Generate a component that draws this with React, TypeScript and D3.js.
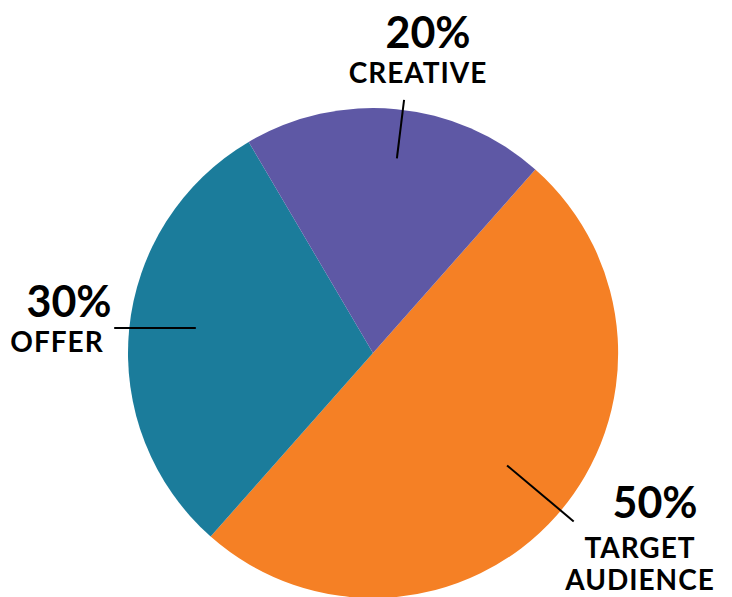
import React, { useEffect, useRef } from "react";
import * as d3 from "d3";

// slices in clockwise order, starting from the top-right boundary
const categories = ["TARGET AUDIENCE", "OFFER", "CREATIVE"];
const nameLines = [["TARGET", "AUDIENCE"], ["OFFER"], ["CREATIVE"]];
const values = [50, 30, 20];
const colors = ["#F58025", "#1B7C9B", "#5E58A5"];

interface Slice {
  name: string;
  lines: string[];
  value: number;
  color: string;
}

const WIDTH = 732;
const HEIGHT = 597;

// label layout per slice (position of the text block, leader line radii, angle tweak in degrees)
const labelLayout = [
  { pctX: 655, pctY: 518, nameX: 640, nameY: 558, lineGap: 32, r0: 175, r1: 262, tilt: -1.5, flat: false },
  { pctX: 69, pctY: 317, nameX: 57, nameY: 352, lineGap: 32, r0: 178, r1: 260, tilt: 0, flat: true },
  { pctX: 428, pctY: 48, nameX: 418, nameY: 83, lineGap: 32, r0: 196, r1: 255, tilt: 1.5, flat: false },
];

export default function App() {
  const svgRef = useRef<SVGSVGElement>(null);

  useEffect(() => {
    const data: Slice[] = categories.map((c, i) => ({
      name: c,
      lines: nameLines[i],
      value: values[i],
      color: colors[i],
    }));

    const svg = d3.select(svgRef.current);
    svg.selectAll("*").remove();

    const cx = 373;
    const cy = 353;
    const radius = 245;
    const start = (41.5 * Math.PI) / 180;

    const pie = d3
      .pie<Slice>()
      .sort(null)
      .value((d) => d.value)
      .startAngle(start)
      .endAngle(start + 2 * Math.PI);

    const arcs = pie(data);
    const arc = d3.arc<d3.PieArcDatum<Slice>>().innerRadius(0).outerRadius(radius);

    const g = svg.append("g").attr("transform", `translate(${cx},${cy})`);

    g.selectAll("path.slice")
      .data(arcs)
      .enter()
      .append("path")
      .attr("class", "slice")
      .attr("d", arc)
      .attr("fill", (d) => d.data.color);

    // leader lines
    arcs.forEach((a, i) => {
      const lay = labelLayout[i];
      const mid = (a.startAngle + a.endAngle) / 2 + (lay.tilt * Math.PI) / 180;
      const p0 = [Math.sin(mid) * lay.r0, -Math.cos(mid) * lay.r0];
      const p1 = [Math.sin(mid) * lay.r1, -Math.cos(mid) * lay.r1];
      if (lay.flat) p0[1] = p1[1];
      g.append("line")
        .attr("x1", p0[0])
        .attr("y1", p0[1])
        .attr("x2", p1[0])
        .attr("y2", p1[1])
        .attr("stroke", "#000")
        .attr("stroke-width", 2);
    });

    // labels
    const total = d3.sum(data, (d) => d.value);
    arcs.forEach((a, i) => {
      const lay = labelLayout[i];
      svg
        .append("text")
        .attr("x", lay.pctX)
        .attr("y", lay.pctY)
        .attr("text-anchor", "middle")
        .attr("font-family", "Lato, sans-serif")
        .attr("font-weight", 700)
        .attr("font-size", 43)
        .attr("fill", "#000")
        .text(`${Math.round((a.data.value / total) * 100)}%`);
      a.data.lines.forEach((ln, j) => {
        svg
          .append("text")
          .attr("x", lay.nameX)
          .attr("y", lay.nameY + j * lay.lineGap)
          .attr("text-anchor", "middle")
          .attr("font-family", "Lato, sans-serif")
          .attr("font-weight", 700)
          .attr("font-size", 28)
          .attr("letter-spacing", 1)
          .attr("fill", "#000")
          .text(ln);
      });
    });
  }, []);

  return (
    <svg
      ref={svgRef}
      width={WIDTH}
      height={HEIGHT}
      style={{ position: "absolute", left: 0, top: 0, background: "#fff" }}
    ></svg>
  );
}
